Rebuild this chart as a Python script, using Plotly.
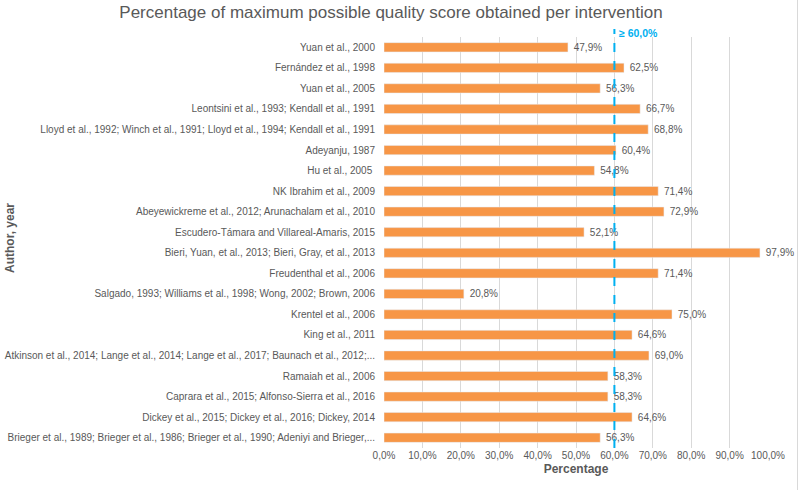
import plotly.graph_objects as go

categories = [
    "Yuan et al., 2000",
    "Fernández et al., 1998",
    "Yuan et al., 2005",
    "Leontsini et al., 1993; Kendall et al., 1991",
    "Lloyd et al., 1992; Winch et al., 1991; Lloyd et al., 1994; Kendall et al., 1991",
    "Adeyanju, 1987",
    "Hu et al., 2005 ",
    "NK Ibrahim et al., 2009",
    "Abeyewickreme et al., 2012; Arunachalam et al., 2010",
    "Escudero-Támara and Villareal-Amaris, 2015",
    "Bieri, Yuan, et al., 2013; Bieri, Gray, et al., 2013",
    "Freudenthal et al., 2006",
    "Salgado, 1993; Williams et al., 1998; Wong, 2002; Brown, 2006",
    "Krentel et al., 2006",
    "King et al., 2011",
    "Atkinson et al., 2014; Lange et al., 2014; Lange et al., 2017; Baunach et al., 2012;...",
    "Ramaiah et al., 2006",
    "Caprara et al., 2015; Alfonso-Sierra et al., 2016",
    "Dickey et al., 2015; Dickey et al., 2016; Dickey, 2014",
    "Brieger et al., 1989; Brieger et al., 1986; Brieger et al., 1990; Adeniyi and Brieger,...",
]
values = [47.9, 62.5, 56.3, 66.7, 68.8, 60.4, 54.8, 71.4, 72.9, 52.1,
          97.9, 71.4, 20.8, 75.0, 64.6, 69.0, 58.3, 58.3, 64.6, 56.3]
threshold = 60.0
tick_vals = [0, 10, 20, 30, 40, 50, 60, 70, 80, 90, 100]
tick_text = [f"{v:.1f}%".replace(".", ",") for v in tick_vals]
labels = ["\u00a0" + f"{v:.1f}%".replace(".", ",") for v in values]

FONT = "Liberation Sans, Arial"
GRAY = "#595959"

# plot area in pixels: x 384..768, y 37..448
L, R, T, B, W, H = 384, 32, 37, 42, 800, 490
PW, PH = W - L - R, H - T - B


def px_x(p):
    return (p - L) / PW


def px_y(p):
    return (H - B - p) / PH


fig = go.Figure(go.Bar(
    x=values, y=categories, orientation="h",
    marker=dict(color="#F79646"),
    text=labels, textposition="outside", cliponaxis=False, constraintext="none",
    textfont=dict(family=FONT, size=10, color=GRAY),
    hoverinfo="skip",
))

fig.update_layout(
    width=W, height=H,
    margin=dict(l=L, r=R, t=T, b=B, autoexpand=False),
    paper_bgcolor="white", plot_bgcolor="white",
    bargap=0.55,
    showlegend=False,
    title=dict(text="Percentage of maximum possible quality score obtained per intervention",
               x=391 / W, xref="container", xanchor="center", y=1 - 12 / H, yref="container",
               yanchor="middle",
               font=dict(family=FONT, size=17, color=GRAY)),
    xaxis=dict(range=[0, 100], tickvals=tick_vals, ticktext=tick_text, tickangle=0,
               showgrid=True, gridcolor="#D9D9D9", gridwidth=1, zeroline=False,
               showline=False, ticks="", automargin=False,
               tickfont=dict(family=FONT, size=10, color=GRAY),
               title=dict(text="<b>Percentage</b>", standoff=4,
                          font=dict(family=FONT, size=12, color=GRAY))),
    yaxis=dict(autorange="reversed", showgrid=False, showline=False, ticks="",
               ticklabelstandoff=8, automargin=False,
               tickfont=dict(family=FONT, size=10, color=GRAY)),
    shapes=[
        dict(type="line", xref="x", yref="paper", x0=threshold, x1=threshold,
             y0=0, y1=px_y(29), line=dict(color="#00B0F0", width=2, dash="dash")),
        dict(type="line", xref="paper", yref="paper", x0=px_x(797.5), x1=px_x(797.5),
             y0=px_y(0), y1=px_y(H), line=dict(color="#D9D9D9", width=1)),
    ],
    annotations=[
        dict(text="<b>≥ 60,0%</b>", x=threshold, y=px_y(33), xref="x", yref="paper",
             xanchor="left", yanchor="middle", xshift=3, showarrow=False,
             font=dict(family=FONT, size=10.5, color="#00B0F0")),
        dict(text="<b>Author, year</b>", x=px_x(10), y=px_y(238),
             xref="paper", yref="paper", showarrow=False, textangle=-90,
             font=dict(family=FONT, size=12, color=GRAY),
             xanchor="center", yanchor="middle"),
    ],
)

fig.write_html("out.html", config={"displayModeBar": False},
               post_script="document.body.style.margin='0';document.body.style.overflow='hidden';")
